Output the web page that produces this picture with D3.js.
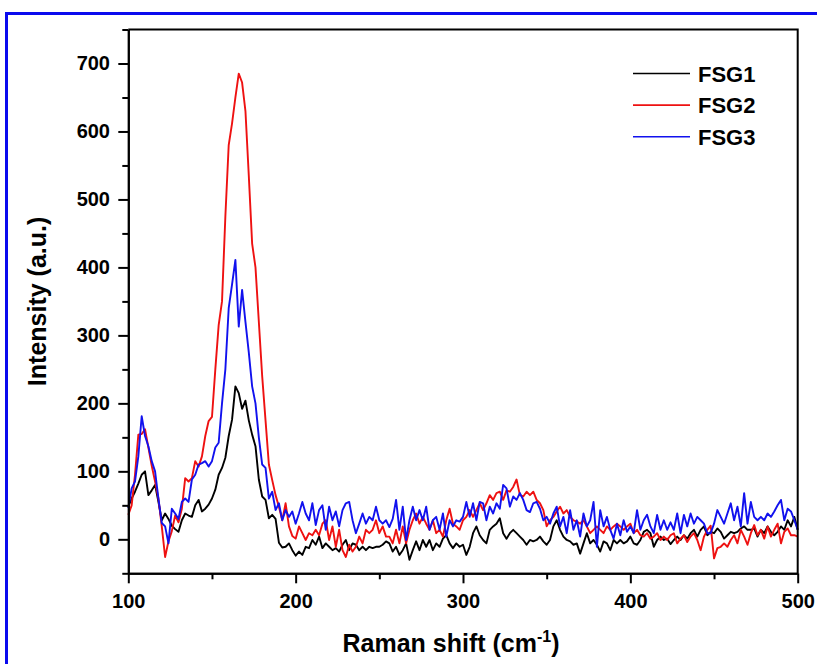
<!DOCTYPE html>
<html>
<head>
<meta charset="utf-8">
<script src="https://cdn.jsdelivr.net/npm/d3@7"></script>
<style>
  body { margin: 0; background: #fff; }
  svg text { font-family: "Liberation Sans", Arial, sans-serif; font-weight: bold; fill: #000; }
</style>
</head>
<body>
<svg id="chart" width="817" height="664"></svg>
<script>
// Raman shift grid, cm-1 (one reading every 2 cm-1)
const ramanShift = d3.range(100, 501, 2);

// intensities, 100 -> 500 cm-1
const fsg1 = [
  48, 60, 70, 82, 95, 100, 65, 72, 80, 55,
  28, 38, 30, 20, 15, 11, 28, 38, 35, 33,
  50, 58, 41, 45, 51, 60, 73, 95, 105, 120,
  152, 176, 225, 215, 192, 204, 175, 154, 137, 88,
  63, 58, 31, 36, 30, -5, -12, -11, -6, -16,
  -24, -18, -23, -11, -13, -1, -8, 4, -13, -6,
  -11, -16, -13, -18, -8, -1, -16, -6, -8, -16,
  -11, -16, -11, -13, -11, -11, -8, -3, -6, -18,
  -11, -23, -16, -6, -30, -16, -3, -16, -1, -11,
  -1, -16, -6, -11, 1, 6, -6, -13, -6, -11,
  -8, -23, -11, 9, 19, 6, -1, -6, 14, 19,
  23, 31, 9, 1, 9, 14, 9, 4, -1, -8,
  -1, -3, -1, 4, -3, -8, -1, 19, 28, 14,
  4, -1, -3, -8, -6, -21, -6, 9, -6, -1,
  -8, -18, -3, -6, -16, -1, -6, -1, -6, -3,
  4, -6, -8, -1, 11, 14, 9, -11, -1, 4,
  -1, 1, -7, -1, 4, -1, 6, 1, 9, 14,
  4, 14, 19, 6, 11, 9, 16, 11, 1, 6,
  11, 9, 11, 16, 19, 14, 14, 16, 4, 14,
  9, 19, 11, 6, 11, 19, 14, 28, 19, 33,
  14
];

const fsg2 = [
  36, 50, 95, 154, 155, 162, 135, 108, 85, 60,
  19, -26, -3, 12, 35, 25, 45, 90, 85, 90,
  115, 107, 122, 152, 174, 180, 250, 315, 350, 475,
  580, 612, 650, 685, 672, 630, 535, 435, 400, 320,
  240, 175, 110, 87, 65, 48, 28, 53, 19, 5,
  1, 19, 9, -1, 9, 6, 14, 6, 23, 28,
  -1, 19, -11, 14, -16, -26, -8, -18, -11, 4,
  -6, 14, 9, 14, 28, 9, 19, 4, 4, -6,
  14, -6, 19, -6, 14, 28, 38, 23, 33, 23,
  14, 28, 9, 14, 4, 28, 45, 23, 19, 14,
  28, 33, 43, 33, 43, 53, 43, 53, 65, 58,
  68, 70, 58, 72, 70, 77, 88, 65, 63, 70,
  65, 70, 58, 53, 43, 19, 28, 33, 41, 48,
  38, 43, 33, 28, 26, 23, 28, 19, 9, 14,
  19, 14, 9, 19, 14, 19, 23, 19, 14, 19,
  23, 9, 14, 6, 4, 9, 1, 4, 9, -1,
  4, -1, 6, 9, -6, 1, 6, -4, 4, 9,
  -1, -16, 4, 14, 20, -28, -13, -11, -6, -11,
  -1, 6, -6, 14, 4, -8, 9, 21, 6, 14,
  1, 19, 4, 14, 23, -6, 11, 16, 6, 6,
  4
];

const fsg3 = [
  46, 75, 85, 122, 181, 152, 137, 115, 100, 60,
  24, 19, -6, 45, 38, 30, 55, 60, 55, 88,
  95, 110, 112, 115, 107, 115, 135, 142, 200, 250,
  340, 375, 411, 313, 367, 320, 275, 225, 200, 150,
  110, 105, 60, 70, 43, 53, 28, 43, 33, 41,
  23, 38, 55, 38, 28, 53, 21, 43, 50, 14,
  48, 28, 41, 19, 43, 53, 55, 28, 9, 23,
  38, 23, 33, 28, 48, 28, 23, 28, 18, 30,
  58, 14, 48, -1, 28, 48, 28, 43, 28, 48,
  14, 28, 33, 14, 38, 4, 28, 19, 28, 26,
  33, 55, 33, 53, 28, 55, 53, 28, 48, 38,
  53, 45, 80, 75, 48, 63, 58, 68, 58, 43,
  40, 53, 55, 45, 28, 33, 23, 38, 48, 19,
  33, 9, 43, 14, 28, 4, 38, 19, 28, 55,
  -11, 43, 19, 33, 14, 1, 23, 6, 28, 11,
  19, 9, 43, 14, 28, 36, 19, 9, 36, 14,
  28, 14, 25, 14, 38, 9, 36, 19, 38, 23,
  33, 28, 23, 9, 9, 23, 43, 33, 23, 38,
  53, 28, 48, 19, 68, 23, 55, 33, 28, 33,
  28, 38, 33, 41, 50, 58, 28, 45, 41, 28,
  14
];

const seriesNames = ["FSG1", "FSG2", "FSG3"];
const seriesColors = ["#000000", "#ee1111", "#1111ee"];
const xTicks = [100, 200, 300, 400, 500];
const xMinorTicks = [150, 250, 350, 450];
const yTicks = [0, 100, 200, 300, 400, 500, 600, 700];
const yMinorTicks = [-50, 50, 150, 250, 350, 450, 550, 650, 750];

const svg = d3.select("#chart");
const plot = { left: 128.3, right: 797.7, top: 29.5, bottom: 573.3 };

// blue frame round the figure
svg.append("rect")
  .attr("x", 6.5).attr("y", 13.5)
  .attr("width", 900).attr("height", 800)
  .attr("fill", "none")
  .attr("stroke", "#0a0aee")
  .attr("stroke-width", 3);

const x = d3.scaleLinear().domain([100, 500]).range([plot.left, plot.right]);
const y = d3.scaleLinear().domain([-50, 750]).range([plot.bottom, plot.top]);

// data lines
const allSeries = [fsg1, fsg2, fsg3];
const line = d3.line()
  .x((d, i) => x(ramanShift[i]))
  .y(d => y(d));

allSeries.forEach((vals, k) => {
  svg.append("path")
    .datum(vals)
    .attr("fill", "none")
    .attr("stroke", seriesColors[k])
    .attr("stroke-width", 1.9)
    .attr("stroke-linejoin", "round")
    .attr("d", line);
});

// axes
function styleAxis(g) {
  g.selectAll("path, line").attr("stroke", "#000").attr("stroke-width", 2);
  g.selectAll("text").style("font-size", "20px").attr("fill", "#000");
}

svg.append("g")
  .attr("transform", `translate(0,${plot.bottom})`)
  .call(d3.axisBottom(x).tickValues(xMinorTicks).tickSize(6).tickSizeOuter(0).tickFormat(""))
  .call(styleAxis);

svg.append("g")
  .attr("transform", `translate(0,${plot.bottom})`)
  .call(d3.axisBottom(x).tickValues(xTicks).tickSize(10).tickSizeOuter(0).tickPadding(10.5).tickFormat(d3.format("d")))
  .call(styleAxis);

svg.append("g")
  .attr("transform", `translate(${plot.left},0)`)
  .call(d3.axisLeft(y).tickValues(yMinorTicks).tickSize(6).tickSizeOuter(0).tickFormat(""))
  .call(styleAxis);

svg.append("g")
  .attr("transform", `translate(${plot.left},0)`)
  .call(d3.axisLeft(y).tickValues(yTicks).tickSize(10).tickSizeOuter(0).tickPadding(8.3).tickFormat(d3.format("d")))
  .call(styleAxis);

// top and right frame lines
svg.append("path")
  .attr("d", `M${plot.left},${plot.top}H${plot.right}V${plot.bottom}`)
  .attr("fill", "none")
  .attr("stroke", "#000")
  .attr("stroke-width", 2);

// axis titles
const xTitle = svg.append("text")
  .attr("x", 451).attr("y", 652)
  .attr("text-anchor", "middle")
  .style("font-size", "25px");
xTitle.append("tspan").text("Raman shift (cm");
xTitle.append("tspan").attr("dy", -10).style("font-size", "16px").text("-1");
xTitle.append("tspan").attr("dy", 10).text(")");

svg.append("text")
  .attr("transform", `translate(46,${(plot.top + plot.bottom) / 2}) rotate(-90)`)
  .attr("text-anchor", "middle")
  .style("font-size", "25px")
  .text("Intensity (a.u.)");

// legend
const legend = svg.append("g").attr("transform", "translate(633,73.5)");
seriesNames.forEach((name, k) => {
  const row = legend.append("g").attr("transform", `translate(0,${k * 31.6})`);
  row.append("line")
    .attr("x1", 0).attr("x2", 57)
    .attr("stroke", seriesColors[k])
    .attr("stroke-width", 1.6);
  row.append("text")
    .attr("x", 65).attr("y", 8)
    .style("font-size", "22px")
    .text(name);
});
</script>
</body>
</html>
